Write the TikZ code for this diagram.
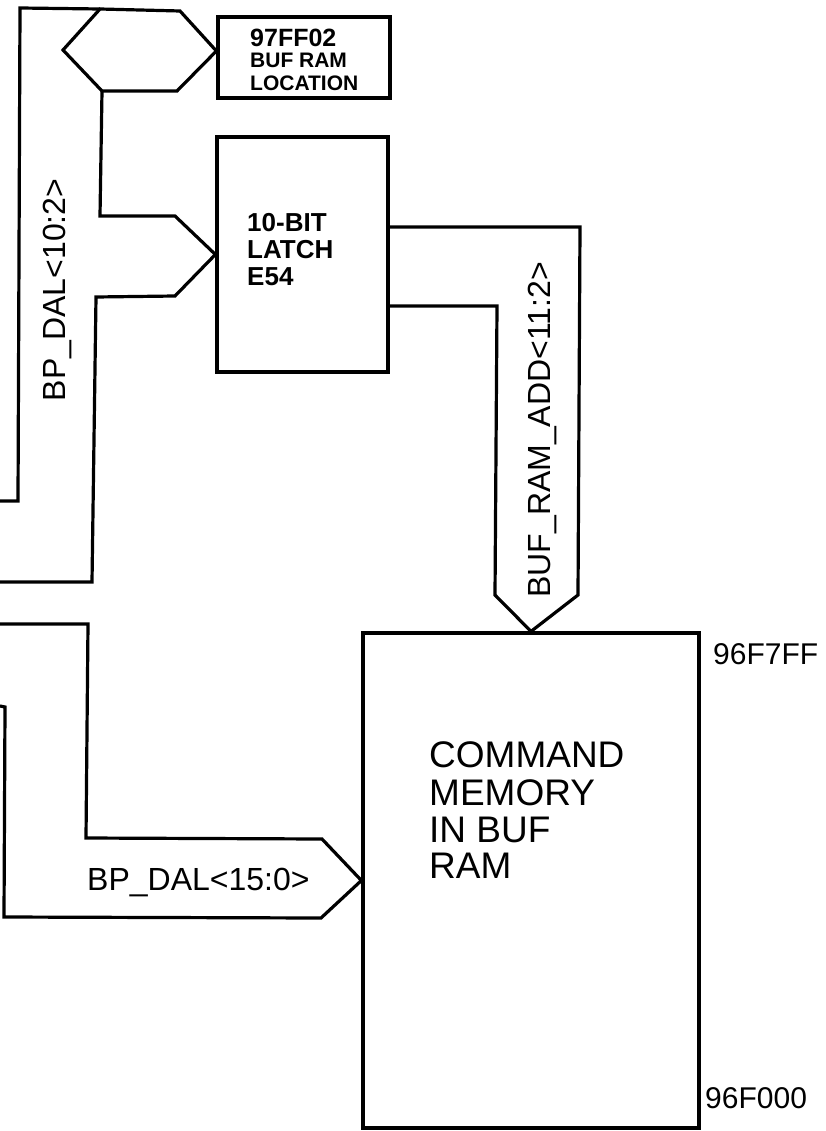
\documentclass[tikz,border=0pt]{standalone}
\usepackage{fontspec}
\setmainfont{Liberation Sans}
\usetikzlibrary{calc}

\begin{document}
\begin{tikzpicture}[x=1pt, y=-1pt, line join=miter,
    wire/.style={line width=3.2pt},
    blk/.style={draw, line width=3.2pt, inner sep=0pt},
    txt/.style={inner sep=0pt, anchor=base west},
    bus/.style={inner sep=0pt, anchor=base, rotate=90, font=\fontsize{32}{38}\selectfont}]
    \useasboundingbox (0,0) rectangle (825,1131);

    \node[blk, minimum width=172pt, minimum height=81pt] (loc) at (304,57.5) {};
    \node[txt, font=\bfseries\fontsize{25}{28}\selectfont] (loc1) at (250,47) {97FF02};
    \node[txt, font=\bfseries\fontsize{21}{24}\selectfont] (loc2) at (250,68) {BUF RAM};
    \node[txt, font=\bfseries\fontsize{21}{24}\selectfont] (loc3) at (250,91) {LOCATION};

    \node[blk, minimum width=171pt, minimum height=235pt] (latch) at (302.5,254.5) {};
    \node[txt, font=\bfseries\fontsize{26}{28}\selectfont] (lat1) at (247,232) {10-BIT};
    \node[txt, font=\bfseries\fontsize{26}{28}\selectfont] (lat2) at (247,259) {LATCH};
    \node[txt, font=\bfseries\fontsize{26}{28}\selectfont] (lat3) at (247,286) {E54};

    \node[blk, minimum width=336pt, minimum height=495pt] (mem) at (531,880.5) {};
    \node[txt, font=\fontsize{37}{38}\selectfont] (mem1) at (429,767) {COMMAND};
    \node[txt, font=\fontsize{37}{38}\selectfont] (mem2) at (429,805) {MEMORY};
    \node[txt, font=\fontsize{37}{38}\selectfont] (mem3) at (429,842) {IN BUF};
    \node[txt, font=\fontsize{37}{38}\selectfont] (mem4) at (429,878) {RAM};
    \node[txt, font=\fontsize{30}{32}\selectfont] (top) at (713,664) {96F7FF};
    \node[txt, font=\fontsize{30}{32}\selectfont] (bot) at (705,1108) {96F000};

    \draw[wire] (0,501) -- (18,501) -- (20,8) -- (100,9);
    \draw[wire] (63,50) -- (100,9) -- (180,11) -- (loc.west |- 0,51) -- (177,91) -- (102,91) -- cycle;
    \draw[wire] (102,91) -- (100,216) -- (175,216) -- (latch.west) -- (175,296) -- (96,297) -- (92,582) -- (0,582);
    \node[bus] (dalA) at (65,290) {BP\_DAL<10:2>};

    \draw[wire] ($(latch.east)+(0,-27.5)$) -- (580,227) -- (578,595) -- (mem.north) -- (495,595) -- (497,306) -- ($(latch.east)+(0,51.5)$);
    \node[bus] (radd) at (550,430) {BUF\_RAM\_ADD<11:2>};

    \draw[wire] (0,624) -- (88,624) -- (86,838) -- (322,839) -- (mem.west) -- (321,918) -- (4,917) -- (5,707) -- (0,706);
    \node[txt, font=\fontsize{32}{38}\selectfont] (dalB) at (87,890) {BP\_DAL<15:0>};
\end{tikzpicture}
\end{document}
